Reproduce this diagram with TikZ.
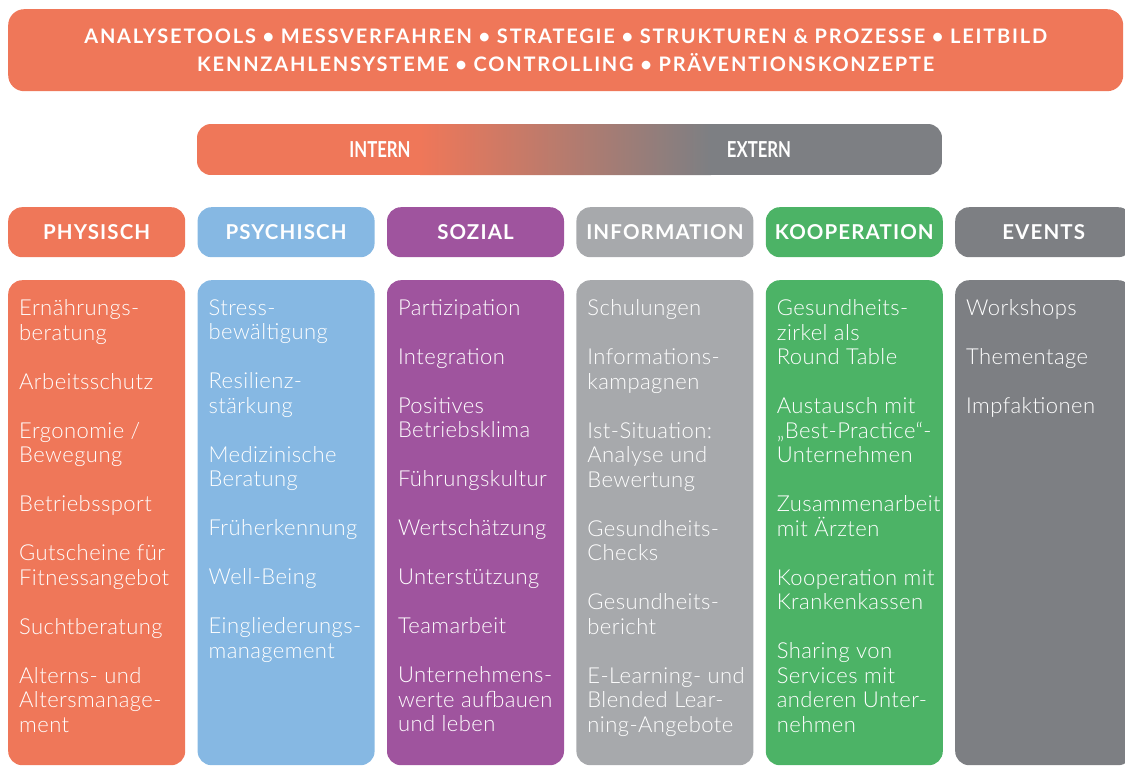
\documentclass[tikz,border=0pt]{standalone}
\usepackage{fontspec}
\setmainfont{Lato}
\newfontfamily\lightfont{Lato Light}[LetterSpace=2]
\newfontfamily\widefont{Lato}[LetterSpace=9]
\newfontfamily\headfont{Lato}[LetterSpace=5.5]
\newfontfamily\condfont{Lato}[FakeStretch=0.76]

\definecolor{physcol}{RGB}{239,119,89}
\definecolor{psychcol}{RGB}{134,184,227}
\definecolor{sozcol}{RGB}{159,84,158}
\definecolor{infocol}{RGB}{167,169,172}
\definecolor{koopcol}{RGB}{76,179,102}
\definecolor{eventcol}{RGB}{125,127,131}

\begin{document}
\begin{tikzpicture}[x=1pt,y=-1pt,
    topbar/.style ={rectangle, rounded corners=16pt, inner sep=0pt, anchor=north west,
      minimum width=1115pt, minimum height=82pt, align=center, text=white,
      font=\widefont\bfseries\fontsize{20}{28}\selectfont},
    bartext/.style ={inner sep=0pt, text=white, font=\condfont\bfseries\fontsize{22}{24}\selectfont},
    headbox/.style ={rectangle, rounded corners=14pt, inner sep=0pt, anchor=north west,
      minimum width=177pt, minimum height=50pt, text=white,
      font=\headfont\bfseries\fontsize{20.5}{24}\selectfont},
    bodybox/.style ={rectangle, rounded corners=14pt, inner sep=0pt, anchor=north west,
      minimum width=177pt, minimum height=485pt},
    bodytext/.style ={anchor=north west, inner sep=0pt, align=left, text=white,
      font=\lightfont\fontsize{22}{24.5}\selectfont, execute at begin node=\strut}]
   \useasboundingbox (0,0) rectangle (1125,766);
   % top bar
   \node[topbar, fill=physcol] (tools) at (8,9)
     {ANALYSETOOLS • MESSVERFAHREN • STRATEGIE • STRUKTUREN \& PROZESSE • LEITBILD\\
      KENNZAHLENSYSTEME • CONTROLLING • PRÄVENTIONSKONZEPTE};
   % intern - extern scale
   \begin{scope}
     \clip[rounded corners=14pt] (197,124) rectangle (942,175);
     \fill[physcol] (197,124) rectangle (421,175);
     \shade[left color=physcol, right color=eventcol] (420,124) rectangle (711,175);
     \fill[eventcol] (710,124) rectangle (942,175);
   \end{scope}
   \node[bartext] (intern) at (380,149.5) {INTERN};
   \node[bartext] (extern) at (759,149.5) {EXTERN};
   % column heads
   \node[headbox, fill=physcol]  (physhead)  at (8,207)     {PHYSISCH};
   \node[headbox, fill=psychcol] (psychhead) at (197.4,207) {PSYCHISCH};
   \node[headbox, fill=sozcol]   (sozhead)   at (386.8,207) {SOZIAL};
   \node[headbox, fill=infocol]  (infohead)  at (576.2,207) {INFORMATION};
   \node[headbox, fill=koopcol]  (koophead)  at (765.6,207) {KOOPERATION};
   \node[headbox, fill=eventcol] (eventhead) at (955,207)   {EVENTS};
   % column bodies
   \node[bodybox, fill=physcol]  (physbox)  at (8,280)     {};
   \node[bodybox, fill=psychcol] (psychbox) at (197.4,280) {};
   \node[bodybox, fill=sozcol]   (sozbox)   at (386.8,280) {};
   \node[bodybox, fill=infocol]  (infobox)  at (576.2,280) {};
   \node[bodybox, fill=koopcol]  (koopbox)  at (765.6,280) {};
   \node[bodybox, fill=eventcol] (eventbox) at (955,280)   {};
   % column texts
   \node[bodytext] (phystext) at ([xshift=11pt,yshift=-19.4pt]physbox.north west)
     {Ernährungs-\\beratung\\[24.5pt]Arbeitsschutz\\[24.5pt]Ergonomie /\\Bewegung\\[24.5pt]%
      Betriebssport\\[24.5pt]Gutscheine für\\Fitnessangebot\\[24.5pt]Suchtberatung\\[24.5pt]%
      Alterns- und\\Altersmanage-\\ment};
   \node[bodytext] (psychtext) at ([xshift=11pt,yshift=-19.4pt]psychbox.north west)
     {Stress-\\bewältigung\\[24.5pt]Resilienz-\\stärkung\\[24.5pt]Medizinische\\Beratung\\[24.5pt]%
      Früherkennung\\[24.5pt]Well-Being\\[24.5pt]Eingliederungs-\\management};
   \node[bodytext] (soztext) at ([xshift=11pt,yshift=-19.4pt]sozbox.north west)
     {Partizipation\\[24.5pt]Integration\\[24.5pt]Positives\\Betriebsklima\\[24.5pt]%
      Führungskultur\\[24.5pt]Wertschätzung\\[24.5pt]Unterstützung\\[24.5pt]Teamarbeit\\[24.5pt]%
      Unternehmens-\\werte aufbauen\\und leben};
   \node[bodytext] (infotext) at ([xshift=11pt,yshift=-19.4pt]infobox.north west)
     {Schulungen\\[24.5pt]Informations-\\kampagnen\\[24.5pt]Ist-Situation:\\Analyse und\\Bewertung\\[24.5pt]%
      Gesundheits-\\Checks\\[24.5pt]Gesundheits-\\bericht\\[24.5pt]%
      E-Learning- und\\Blended Lear-\\ning-Angebote};
   \node[bodytext] (kooptext) at ([xshift=11pt,yshift=-19.4pt]koopbox.north west)
     {Gesundheits-\\zirkel als\\Round Table\\[24.5pt]Austausch mit\\„Best-Practice“-\\Unternehmen\\[24.5pt]%
      Zusammenarbeit\\mit Ärzten\\[24.5pt]Kooperation mit\\Krankenkassen\\[24.5pt]%
      Sharing von\\Services mit\\anderen Unter-\\nehmen};
   \node[bodytext] (eventtext) at ([xshift=11pt,yshift=-19.4pt]eventbox.north west)
     {Workshops\\[24.5pt]Thementage\\[24.5pt]Impfaktionen};
\end{tikzpicture}
\end{document}
